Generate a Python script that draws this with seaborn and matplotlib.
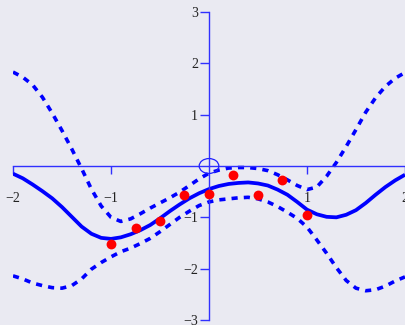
import numpy as np
import pandas as pd
import matplotlib
matplotlib.use("Agg")
import matplotlib.pyplot as plt
from matplotlib.patches import Ellipse
import seaborn as sns

# Observations
obs_x = [-1.0, -0.75, -0.5, -0.25, 0.0, 0.25, 0.5, 0.75, 1.0]
obs_y = [-1.51, -1.21, -1.07, -0.57, -0.55, -0.17, -0.57, -0.27, -0.95]

# Predictive curve and its band, sampled on a grid
grid_x = [round(-2.0 + 0.1 * i, 1) for i in range(41)]
mean_y = [-0.15, -0.24, -0.36, -0.49, -0.63, -0.80, -0.99, -1.18, -1.32, -1.40,
          -1.42, -1.39, -1.33, -1.25, -1.15, -1.02, -0.88, -0.75, -0.63, -0.53,
          -0.45, -0.39, -0.35, -0.33, -0.32, -0.34, -0.38, -0.46, -0.56, -0.70,
          -0.85, -0.94, -0.99, -1.00, -0.95, -0.86, -0.72, -0.56, -0.41, -0.28,
          -0.17]
upper_y = [1.83, 1.73, 1.58, 1.34, 1.03, 0.69, 0.33, -0.05, -0.45, -0.78,
           -1.00, -1.08, -1.03, -0.93, -0.82, -0.72, -0.62, -0.51, -0.38, -0.25,
           -0.14, -0.08, -0.04, -0.03, -0.03, -0.05, -0.09, -0.17, -0.27, -0.38,
           -0.46, -0.41, -0.20, 0.07, 0.38, 0.71, 1.05, 1.33, 1.55, 1.71,
           1.82]
lower_y = [-2.14, -2.20, -2.28, -2.33, -2.37, -2.38, -2.33, -2.20, -2.01, -1.88,
           -1.77, -1.67, -1.60, -1.51, -1.41, -1.28, -1.14, -1.00, -0.88, -0.77,
           -0.70, -0.66, -0.64, -0.62, -0.61, -0.64, -0.70, -0.79, -0.90, -1.02,
           -1.19, -1.44, -1.70, -1.98, -2.23, -2.38, -2.43, -2.41, -2.34, -2.24,
           -2.16]

x_ticks = [-2, -1, 1, 2]
y_ticks = [-3, -2, -1, 1, 2, 3]

sns.set_theme(style="dark", rc={"axes.facecolor": "#EAEAF2",
                                "figure.facecolor": "#EAEAF2"})
plt.rcParams["font.family"] = ["Liberation Serif", "DejaVu Serif"]

curves = pd.DataFrame({"x": grid_x, "mean": mean_y,
                       "upper": upper_y, "lower": lower_y})
points = pd.DataFrame({"x": obs_x, "y": obs_y})

fig = plt.figure(figsize=(4.06, 3.25), dpi=100)
ax = fig.add_axes([13 / 406, 5 / 325, 392 / 406, 308 / 325])

dash = (0, (1.7, 1.7))
for col in ("upper", "lower"):
    sns.lineplot(data=curves, x="x", y=col, ax=ax, color="#0000FF",
                 linewidth=2.6, linestyle=dash, dash_capstyle="butt",
                 dash_joinstyle="round", estimator=None, sort=False)
sns.lineplot(data=curves, x="x", y="mean", ax=ax, color="#0000FF",
             linewidth=2.7, solid_joinstyle="round", solid_capstyle="butt",
             estimator=None, sort=False)
sns.scatterplot(data=points, x="x", y="y", ax=ax, color="#FF0000",
                s=50, linewidth=0, zorder=5, clip_on=False)

# Open ring marking the origin
ax.add_patch(Ellipse((0, 0), width=0.2, height=0.29, fill=False,
                     edgecolor="#2020FF", linewidth=0.9, zorder=6))

ax.set_xlim(-2, 2)
ax.set_ylim(-3, 3)
ax.set_xticks(x_ticks)
ax.set_yticks(y_ticks)
ax.set_xlabel("")
ax.set_ylabel("")

for side in ("top", "right"):
    ax.spines[side].set_visible(False)
for side in ("left", "bottom"):
    ax.spines[side].set_visible(True)
    ax.spines[side].set_position(("data", 0))
    ax.spines[side].set_color("#3030FF")
    ax.spines[side].set_linewidth(1.0)

ax.tick_params(axis="x", direction="out", length=5.5, width=1.0,
               color="#3030FF", pad=13, labelsize=10, labelcolor="#222222",
               bottom=True)
ax.tick_params(axis="y", direction="out", length=6.5, width=1.0,
               color="#3030FF", pad=1.5, labelsize=10, labelcolor="#222222",
               left=True)

fig.savefig("out.png", dpi=100, facecolor=fig.get_facecolor())
